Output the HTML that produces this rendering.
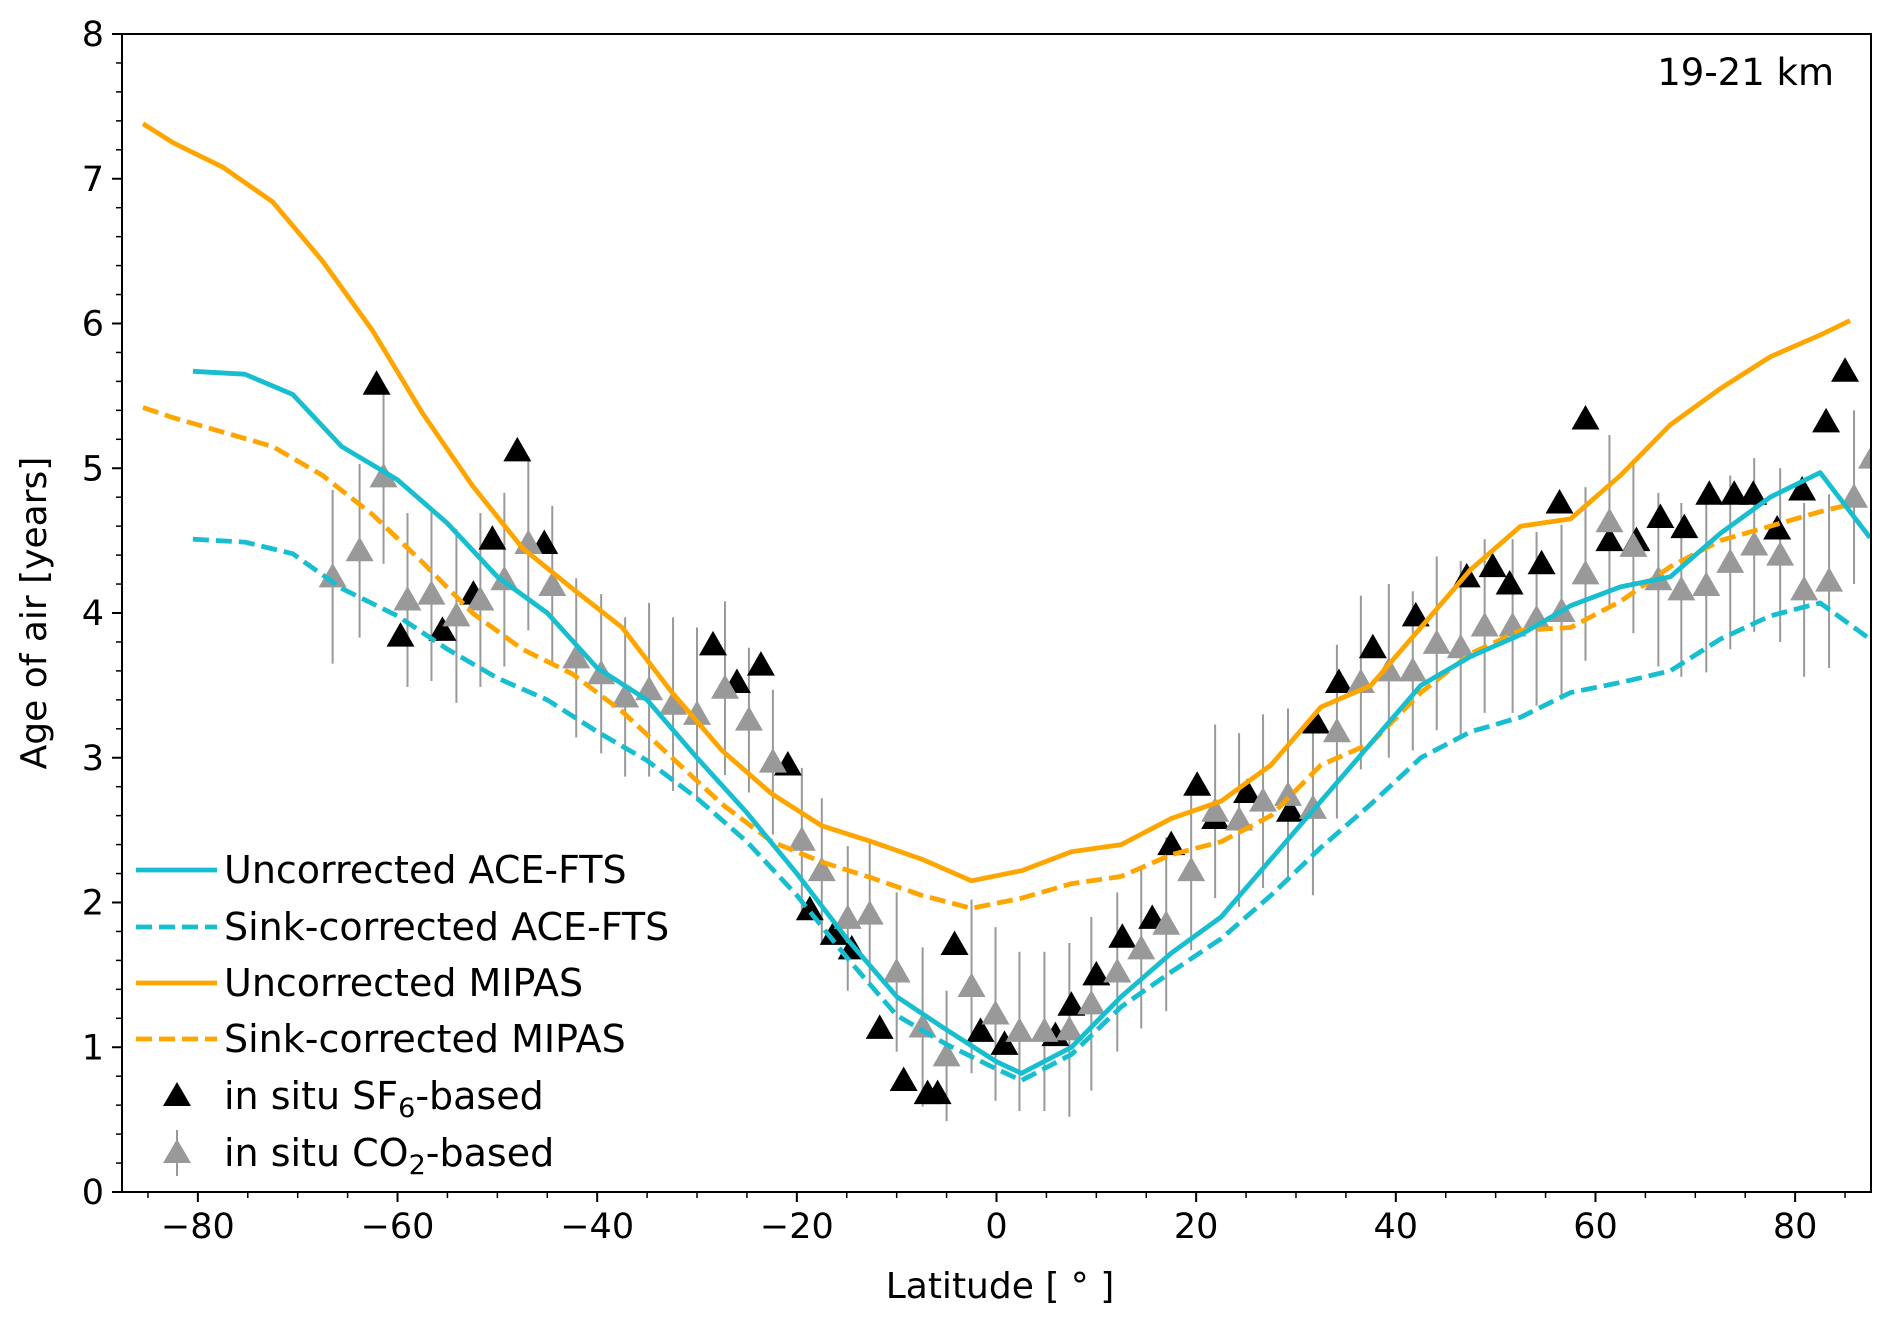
<!DOCTYPE html>
<html><head><meta charset="utf-8"><style>
html,body{margin:0;padding:0;background:#fff;}
svg text{font-family:"DejaVu Sans","Liberation Sans",sans-serif;fill:#000;}
</style></head><body>
<svg id="chart" width="1892" height="1324" viewBox="0 0 1892 1324" xmlns="http://www.w3.org/2000/svg">
<g id="plot"></g>
</svg>
<script>
// ---- data ----
const mipasLat = [-85.5,-82.5,-77.5,-72.5,-67.5,-62.5,-57.5,-52.5,-47.5,-42.5,-37.5,-32.5,-27.5,-22.5,-17.5,-12.5,-7.5,-2.5,2.5,7.5,12.5,17.5,22.5,27.5,32.5,37.5,42.5,47.5,52.5,57.5,62.5,67.5,72.5,77.5,82.5,85.5];
const mipasUncorr = [7.38,7.25,7.08,6.84,6.43,5.95,5.38,4.88,4.45,4.17,3.9,3.45,3.05,2.75,2.53,2.42,2.3,2.15,2.22,2.35,2.4,2.58,2.7,2.95,3.35,3.5,3.9,4.3,4.6,4.65,4.95,5.3,5.55,5.77,5.92,6.02];
const mipasSink = [5.42,5.35,5.25,5.15,4.95,4.68,4.35,4.0,3.75,3.58,3.32,3.0,2.68,2.42,2.28,2.17,2.05,1.96,2.03,2.13,2.18,2.33,2.42,2.6,2.95,3.1,3.45,3.72,3.88,3.9,4.08,4.32,4.5,4.6,4.7,4.75];
const aceLat = [-80.5,-75.3,-70.5,-65.6,-60,-55,-50,-45,-40,-35,-30,-25,-20,-15,-10,-5,0,2.5,7.5,12.5,17.5,22.5,27.5,32.5,37.5,42.5,47.5,52.5,57.5,62.5,67.5,72.5,77.5,82.5,87.5];
const aceUncorr = [5.67,5.65,5.51,5.15,4.92,4.62,4.25,4.0,3.62,3.4,3.0,2.62,2.2,1.75,1.35,1.12,0.9,0.82,1.0,1.35,1.65,1.9,2.3,2.7,3.1,3.5,3.7,3.85,4.05,4.18,4.25,4.55,4.8,4.97,4.52];
const aceSink = [4.51,4.49,4.41,4.17,3.98,3.75,3.55,3.4,3.18,2.98,2.72,2.42,2.05,1.62,1.22,1.02,0.85,0.77,0.95,1.28,1.52,1.75,2.05,2.38,2.68,3.0,3.18,3.28,3.45,3.52,3.6,3.82,3.98,4.07,3.82];
const sf6Lat = [-62.1,-59.7,-55.5,-52.4,-50.5,-48,-45.3,-28.4,-26,-23.6,-20.9,-18.7,-16.3,-14.5,-11.7,-9.3,-6.9,-5.9,-4.2,-1.6,0.8,5.9,7.5,10,12.6,15.6,17.5,20.1,21.9,25.1,29.4,32,34.3,37.7,42,47.1,49.7,51.4,54.6,56.4,59,61.4,64.1,66.5,68.9,71.4,73.9,75.8,78.2,80.7,83.1,85];
const sf6Age = [5.58,3.84,3.88,4.13,4.51,5.12,4.48,3.78,3.52,3.64,2.95,1.95,1.78,1.68,1.13,0.77,0.68,0.68,1.71,1.11,1.02,1.08,1.29,1.5,1.76,1.89,2.4,2.81,2.58,2.76,2.63,3.24,3.52,3.76,3.98,4.25,4.32,4.2,4.34,4.76,5.34,4.5,4.5,4.66,4.59,4.82,4.82,4.82,4.58,4.85,5.32,5.67];
const co2Lat = [-66.5,-63.8,-61.4,-59,-56.6,-54.1,-51.7,-49.3,-46.9,-44.5,-42.1,-39.6,-37.2,-34.8,-32.4,-30,-27.2,-24.8,-22.4,-19.5,-17.5,-14.9,-12.7,-10,-7.4,-5,-2.5,-0.1,2.3,4.8,7.3,9.5,12.1,14.5,17,19.5,21.9,24.3,26.7,29.2,31.7,34.1,36.5,39.3,41.7,44.1,46.5,48.9,51.7,54.1,56.6,59,61.4,63.8,66.3,68.6,71.1,73.5,75.9,78.5,80.9,83.4,85.9,87.7];
const co2Age = [4.25,4.43,4.94,4.09,4.13,3.98,4.09,4.23,4.48,4.19,3.69,3.58,3.42,3.47,3.37,3.3,3.48,3.26,2.97,2.43,2.22,1.89,1.92,1.52,1.14,0.94,1.42,1.23,1.11,1.11,1.12,1.3,1.52,1.68,1.85,2.22,2.63,2.57,2.7,2.74,2.65,3.18,3.52,3.6,3.6,3.79,3.76,3.91,3.91,3.96,4.01,4.27,4.63,4.46,4.23,4.16,4.19,4.35,4.47,4.4,4.16,4.22,4.8,5.07];
const co2Err = [0.6,0.6,0.6,0.6,0.6,0.6,0.6,0.6,0.6,0.55,0.55,0.55,0.55,0.6,0.6,0.6,0.6,0.5,0.5,0.5,0.5,0.5,0.5,0.55,0.55,0.45,0.6,0.6,0.55,0.55,0.6,0.6,0.55,0.55,0.6,0.55,0.6,0.6,0.6,0.6,0.6,0.6,0.6,0.6,0.55,0.6,0.6,0.6,0.6,0.6,0.6,0.6,0.6,0.6,0.6,0.6,0.6,0.6,0.6,0.6,0.6,0.6,0.6,0.6];
const xTicks = [-80,-60,-40,-20,0,20,40,60,80];
const yTicks = [0,1,2,3,4,5,6,7,8];

// ---- axes ----
const L=122,R=1871,T=34,B=1192, XMIN=-87.6, XMAX=87.6, YMIN=0, YMAX=8;
const sx = v => L + (v-XMIN)/(XMAX-XMIN)*(R-L);
const sy = v => B - (v-YMIN)/(YMAX-YMIN)*(B-T);
const NS="http://www.w3.org/2000/svg";
const svg=document.getElementById('chart');
const g=document.getElementById('plot');
function mk(tag,attrs,parent){const e=document.createElementNS(NS,tag);for(const k in attrs)e.setAttribute(k,attrs[k]);(parent||svg).appendChild(e);return e;}

const clip=mk('clipPath',{id:'clipP'});
mk('rect',{x:L,y:T,width:R-L,height:B-T},clip);
g.setAttribute('clip-path','url(#clipP)');

function line(lat,val,color,dash,name){
  const d=lat.map((x,i)=>(i?'L':'M')+sx(x).toFixed(1)+','+sy(val[i]).toFixed(1)).join(' ');
  const p=mk('path',{d:d,fill:'none',stroke:color,'stroke-width':4.8,'stroke-dasharray':dash||'none','stroke-linejoin':'round'},g);
  
  
}
function tri(x,y,color,name){
  const s=14;
  const p=mk('polygon',{points:`${x},${y-s} ${x-s},${y+s*0.75} ${x+s},${y+s*0.75}`,fill:color},g);
  
  
}

co2Lat.forEach((la,i)=>{
  const e=mk('line',{x1:sx(la),x2:sx(la),y1:sy(co2Age[i]-co2Err[i]),y2:sy(co2Age[i]+co2Err[i]),stroke:'#999','stroke-width':2},g);
  
  
});
sf6Lat.forEach((la,i)=>tri(sx(la),sy(sf6Age[i]),'#000','sf6-point'));
co2Lat.forEach((la,i)=>tri(sx(la),sy(co2Age[i]),'#999','co2-point'));
line(mipasLat,mipasUncorr,'#ffa500',null,'uncorrected-mipas-line');
line(mipasLat,mipasSink,'#ffa500','16 7','sink-corrected-mipas-line');
line(aceLat,aceUncorr,'#17becf',null,'uncorrected-ace-fts-line');
line(aceLat,aceSink,'#17becf','16 7','sink-corrected-ace-fts-line');

const fr=mk('rect',{x:L,y:T,width:R-L,height:B-T,fill:'none',stroke:'#000','stroke-width':2});



for(let v=-85;v<=85;v+=5){ if(v%20!==0) mk('line',{x1:sx(v),x2:sx(v),y1:B,y2:B+6,stroke:'#000','stroke-width':1.5}); }
xTicks.forEach(v=>{
  mk('line',{x1:sx(v),x2:sx(v),y1:B,y2:B+10,stroke:'#000','stroke-width':2});
  const t=mk('text',{x:sx(v),y:B+46,'text-anchor':'middle','font-size':35});
  t.textContent=(v<0?'\u2212'+(-v):v);
  
  
});
for(let v=0.2;v<8;v+=0.2){ mk('line',{x1:L,x2:L-6,y1:sy(v),y2:sy(v),stroke:'#000','stroke-width':1.5}); }
yTicks.forEach(v=>{
  mk('line',{x1:L,x2:L-10,y1:sy(v),y2:sy(v),stroke:'#000','stroke-width':2});
  const t=mk('text',{x:L-18,y:sy(v)+12,'text-anchor':'end','font-size':35});
  t.textContent=v;
  
  
});
</script>
<svg style="position:absolute;left:0;top:0" width="1892" height="1324">
<text x="1000" y="1298" text-anchor="middle" font-size="36">Latitude [ ° ]</text>
<text transform="translate(46,613) rotate(-90)" text-anchor="middle" font-size="36">Age of air [years]</text>
<text x="1834" y="85" text-anchor="end" font-size="37">19-21 km</text>
<g font-size="38">
 <g><line x1="136" x2="217" y1="870" y2="870" stroke="#17becf" stroke-width="4.8"/><text x="224" y="883">Uncorrected ACE-FTS</text></g>
 <g><line x1="136" x2="217" y1="927" y2="927" stroke="#17becf" stroke-width="4.8" stroke-dasharray="16 7"/><text x="224" y="940">Sink-corrected ACE-FTS</text></g>
 <g><line x1="136" x2="217" y1="983" y2="983" stroke="#ffa500" stroke-width="4.8"/><text x="224" y="996">Uncorrected MIPAS</text></g>
 <g><line x1="136" x2="217" y1="1039" y2="1039" stroke="#ffa500" stroke-width="4.8" stroke-dasharray="16 7"/><text x="224" y="1052">Sink-corrected MIPAS</text></g>
 <g><polygon points="177,1082 163,1106 191,1106" fill="#000"/><text x="224" y="1109">in situ SF<tspan font-size="27" dy="8">6</tspan><tspan dy="-8">-based</tspan></text></g>
 <g><line x1="177" x2="177" y1="1130" y2="1176" stroke="#999" stroke-width="2"/><polygon points="177,1139 163,1163 191,1163" fill="#999"/><text x="224" y="1166">in situ CO<tspan font-size="27" dy="8">2</tspan><tspan dy="-8">-based</tspan></text></g>
</g>
</svg>
</body></html>
